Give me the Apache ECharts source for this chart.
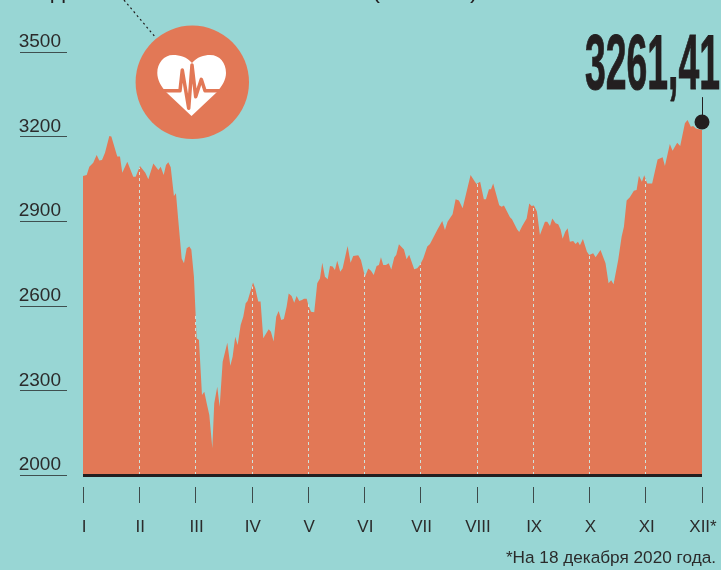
<!DOCTYPE html>
<html><head><meta charset="utf-8">
<style>html,body{margin:0;padding:0;background:#98D6D4}#c{width:721px;height:570px}</style>
<script src="https://cdn.jsdelivr.net/npm/echarts@6/dist/echarts.min.js"></script>
</head><body><div id="c"></div>
<script>
const monthLabels = ['I','II','III','IV','V','VI','VII','VIII','IX','X','XI','XII*'];
const yTicks = [2000,2300,2600,2900,3200,3500];
const lastValueLabel = '3261,41';
const lastValueMark = 3252;
const footnote = '*На 18 декабря 2020 года.';
const croppedHeadingGlyphs = ['д','(',')'];
const steps = [0,3.7,6.3,10.2,13.6,16.2,18.9,21.9,26.2,28.2,34.1,36.8,39.1,44.1,50,52.4,56.7,62,65,70,75,77.3,80.3,82.6,84.9,87.3,90.5,92.5,94.8,98.2,100.5,103.2,105.8,107.8,110.4,113.1,115.4,118.4,120.7,123.1,125.7,128.7,130.6,133.6,136,139,143.6,146.6,148.9,151.5,153.9,156.9,159.5,161.9,163.8,169.2,171.4,174.4,176.7,179.4,184.8,187,189.7,192.3,194.7,197.3,199.9,202.6,204.7,207.6,210.2,212.6,215.2,217.9,219.9,222.6,224.2,226.9,230.1,233.1,235.8,238.1,240.8,243.5,245.8,248.4,250.7,253,256,258.4,263.3,266.3,268.9,273.9,276.6,280.6,283.9,286.6,289.3,292.2,294.5,296.5,298.8,301.5,304.2,306.8,309.8,311.7,314.4,319.4,322,324.6,329.6,332.6,335.3,338.6,342.6,345.3,352.5,357.5,360.2,362.8,367.8,370.8,374.1,377.8,385.7,390,391.6,395.2,398.9,401,404,406,408.2,414.2,416.6,418.9,424.9,426.9,428.8,432.1,434.1,437.1,441.5,444.1,446.4,448.7,451.7,454.7,459.7,462,464.7,467,470.3,472.9,475.3,477.3,479.9,482.3,484.5,487.8,490.2,492.5,494.5,497.5,501.5,503.8,507.7,510.1,511.7,515,520,523,525.6,528,532.6,536,538.3,541,544.2,548.2,550.9,553.2,556.2,558.5,561.5,566.4,571.8,576.8,579.1,584,586.7,591.3,594.3,599,601.6,604.9,607.2,609.9,616];
const values = [3060,3064,3093,3107,3135,3115,3117,3143,3202,3200,3129,3129,3072,3111,3058,3058,3096,3072,3049,3105,3082,3093,3064,3099,3109,3091,2989,2999,2904,2768,2751,2804,2810,2800,2703,2485,2479,2284,2295,2254,2213,2095,2254,2313,2242,2402,2469,2387,2419,2490,2461,2532,2561,2609,2617,2683,2662,2615,2615,2485,2517,2508,2473,2561,2582,2550,2553,2597,2644,2635,2611,2635,2617,2621,2625,2625,2603,2579,2577,2680,2697,2753,2703,2694,2741,2739,2727,2760,2721,2733,2812,2753,2777,2779,2762,2703,2732,2724,2709,2741,2745,2772,2745,2745,2751,2729,2772,2780,2818,2800,2765,2781,2730,2733,2745,2768,2810,2819,2869,2901,2869,2898,2925,2978,2973,2946,3064,3040,3032,3040,2978,2978,3013,3013,3034,2957,2951,2956,2914,2907,2914,2871,2862,2883,2910,2963,2954,2956,2934,2851,2898,2898,2883,2910,2893,2889,2871,2838,2863,2875,2827,2830,2819,2827,2815,2837,2792,2780,2786,2772,2774,2798,2751,2680,2691,2676,2762,2845,2880,2973,2985,3008,3011,3061,3040,3063,3034,3034,3119,3127,3096,3174,3150,3178,3167,3247,3259,3235,3238,3229,3223];
const monthStep = 56;

const BG='#98D6D4', CORAL='#E27856', DARK='#231F20';
const FONT='"Liberation Sans",sans-serif';

function valueAt(x){
  for(let i=1;i<steps.length;i++){
    if(steps[i]>=x){
      const k=(x-steps[i-1])/(steps[i]-steps[i-1]);
      return values[i-1]+k*(values[i]-values[i-1]);
    }
  }
  return values[values.length-1];
}
const monthLines=[];
for(let m=1;m<monthLabels.length-1;m++){
  const x=m*monthStep;
  monthLines.push([{coord:[x,yTicks[0]]},{coord:[x,valueAt(x)]}]);
}

echarts.graphic.registerShape('heartIcon',echarts.graphic.extendShape({
  buildPath(ctx){
    ctx.moveTo(192,63);
    ctx.bezierCurveTo(197,57,204,55,210,55);
    ctx.bezierCurveTo(220,55,226,63,226,73);
    ctx.bezierCurveTo(226,80,222,86,217,92);
    ctx.lineTo(191.5,116);
    ctx.lineTo(166,92);
    ctx.bezierCurveTo(161,86,157.3,80,157.3,73);
    ctx.bezierCurveTo(157.3,63,164,55,173,55);
    ctx.bezierCurveTo(180,55,187,57,192,63);
    ctx.closePath();
  }
}));

const chart=echarts.init(document.getElementById('c'),null,{renderer:'canvas'});
chart.setOption({
  animation:false,
  backgroundColor:BG,
  grid:{left:83,top:52,width:619,height:423,containLabel:false},
  xAxis:[
    {type:'value',min:0,max:monthStep*11,interval:monthStep,position:'bottom',
      splitLine:{show:false},axisTick:{show:false},axisLabel:{show:false},
      axisLine:{show:true,onZero:false,lineStyle:{color:DARK,width:3,cap:'butt'}},z:5},
    {type:'value',min:0,max:monthStep*11,interval:monthStep,position:'bottom',offset:12,
      splitLine:{show:false},axisLine:{show:false,onZero:false},
      axisTick:{show:true,length:16,lineStyle:{color:'#3d4a4a',width:1}},
      axisLabel:{show:true,margin:32,showMinLabel:true,showMaxLabel:true,hideOverlap:false,
        fontFamily:FONT,fontSize:17,color:'#2b2b2b',padding:[0,0,0,2],
        formatter:v=>monthLabels[Math.round(v/monthStep)]}}
  ],
  yAxis:{type:'value',min:yTicks[0],max:yTicks[yTicks.length-1],interval:300,position:'left',offset:16,
    splitLine:{show:false},axisLine:{show:false,onZero:false},
    axisTick:{show:true,length:47,lineStyle:{color:'#3f4f4f',width:1}},
    axisLabel:{margin:6,fontFamily:FONT,fontSize:19,color:'#2b2b2b',formatter:v=>String(v),
      verticalAlign:'bottom',showMinLabel:true,showMaxLabel:true,lineHeight:20}},
  series:[
    {type:'line',xAxisIndex:0,data:steps.map((s,i)=>[s,values[i]]),showSymbol:false,
      lineStyle:{width:0},itemStyle:{color:CORAL},areaStyle:{color:CORAL,opacity:1},silent:true,z:2,
      markLine:{silent:true,symbol:'none',label:{show:false},animation:false,
        lineStyle:{color:'#cfe2dc',type:[3,3],width:1},data:monthLines}},
    {type:'scatter',xAxisIndex:0,data:[[monthStep*11,lastValueMark]],symbol:'circle',symbolSize:15,clip:false,
      itemStyle:{color:DARK,opacity:1},z:6,silent:true,
      markLine:{silent:true,symbol:'none',label:{show:false},animation:false,
        lineStyle:{color:DARK,type:'solid',width:1,opacity:1},
        data:[[{coord:[monthStep*11,lastValueMark]},{coord:[monthStep*11,3340]}]]}}
  ],
  graphic:[
    {type:'circle',shape:{cx:192.3,cy:82.3,r:56.7},style:{fill:CORAL},z:10},
    {type:'heartIcon',z:11,style:{fill:'#fff'}},
    {type:'polyline',z:12,shape:{points:[[157,90.7],[180,90.7],[182.3,70],[188.7,108.3],[192,65],[195.7,96.7],[201.3,79.3],[205,90.7],[226,90.7]]},
      style:{fill:'none',stroke:CORAL,lineWidth:3.5,lineJoin:'round',lineCap:'round'}},
    {type:'line',z:9,shape:{x1:124,y1:0,x2:156,y2:38},style:{stroke:DARK,lineWidth:1.2,lineDash:[2,3]}},
    {type:'text',z:12,x:585,y:29,scaleX:0.485,style:{text:lastValueLabel,fill:DARK,stroke:DARK,lineWidth:1,
      font:'bold 77px "Liberation Sans",sans-serif',textVerticalAlign:'top'}},
    {type:'text',z:12,x:716,y:558,style:{text:footnote,fill:'#2b2b2b',align:'right',verticalAlign:'middle',
      font:'17.2px "Liberation Sans",sans-serif'}},
    {type:'text',z:12,x:51,y:3,style:{text:croppedHeadingGlyphs[0],fill:DARK,verticalAlign:'bottom',font:'24px "Liberation Sans",sans-serif'}},
    {type:'text',z:12,x:372,y:3,style:{text:croppedHeadingGlyphs[1],fill:DARK,verticalAlign:'bottom',font:'24px "Liberation Sans",sans-serif'}},
    {type:'text',z:12,x:470,y:3,style:{text:croppedHeadingGlyphs[2],fill:DARK,verticalAlign:'bottom',font:'24px "Liberation Sans",sans-serif'}}
  ]
});
</script></body></html>
